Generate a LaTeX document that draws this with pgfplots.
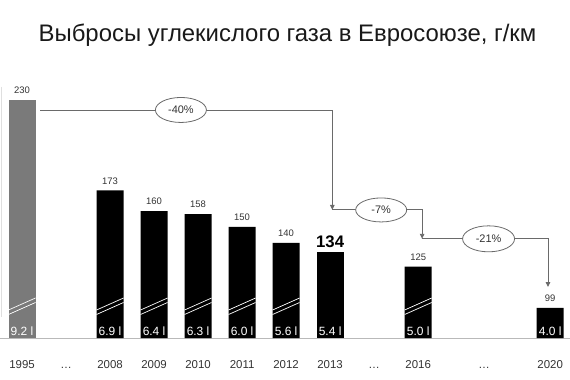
\documentclass[border=0pt]{standalone}
\usepackage{fontspec}
\setmainfont{Liberation Sans}
\usepackage{pgfplots}
\pgfplotsset{compat=1.18}
\usetikzlibrary{arrows.meta,shapes.geometric}
\definecolor{bargray}{HTML}{7A7A7A}
\definecolor{linegray}{HTML}{6A6A6A}
\definecolor{txt}{HTML}{333333}
\begin{document}
\begin{tikzpicture}
\useasboundingbox (0,-42bp) rectangle (570bp,338bp);
\begin{axis}[
  at={(0,0)}, anchor=south west, scale only axis,
  width=570bp, height=338bp,
  xmin=-0.5, xmax=12.45, ymin=80, ymax=293,
  axis x line*=bottom, axis y line=none,
  x axis line style={draw=gray!55, -},
  xtick={0,1,2,3,4,5,6,7,8,9,10.5,12},
  xticklabels={1995,{\dots},2008,2009,2010,2011,2012,2013,{\dots},2016,{\dots},2020},
  major tick length=0pt,
  xticklabel style={font=\fontsize{11.5}{13}\selectfont, text=txt, text height=8.5bp, text depth=0pt, yshift=-18bp},
  clip=false,
  bar width=27bp,
  /pgf/number format/assume math mode=true,
]
% bars
\addplot[ybar, bar shift=0pt, fill=bargray, draw=none,
  nodes near coords, point meta=y,
  nodes near coords style={font=\fontsize{9.5}{11}\selectfont, text=txt, anchor=south, inner sep=1bp, yshift=5bp}]
  coordinates {(0,230)};
\addplot[ybar, bar shift=0pt, fill=black, draw=none,
  nodes near coords, point meta=y,
  nodes near coords style={font=\fontsize{9.5}{11}\selectfont, text=txt, anchor=south, inner sep=1bp, yshift=5bp}]
  coordinates {(2,173) (3,160) (4,158) (5,150) (6,140) (9,125) (12,99)};
\addplot[ybar, bar shift=0pt, fill=black, draw=none,
  nodes near coords, point meta=y,
  nodes near coords style={font=\bfseries\fontsize{16.8}{18}\selectfont, text=black, anchor=south, inner sep=1bp, yshift=3bp}]
  coordinates {(7,134)};
% break marks
\pgfplotsinvokeforeach{0,2,3,4,5,6,9}{
  \draw[white, line width=0.7bp] ([shift={(-13.5bp,23.5bp)}]axis cs:#1,80) -- ([shift={(13.5bp,35.5bp)}]axis cs:#1,80);
  \draw[white, line width=0.7bp] ([shift={(-13.5bp,28bp)}]axis cs:#1,80) -- ([shift={(13.5bp,40bp)}]axis cs:#1,80);
}
% inner labels
\addplot[only marks, mark=none, point meta=explicit symbolic,
  nodes near coords,
  nodes near coords style={font=\fontsize{12}{13}\selectfont, text=white, anchor=south, inner sep=0pt, yshift=2bp}]
  coordinates {(0,80) [9.2 l] (2,80) [6.9 l] (3,80) [6.4 l] (4,80) [6.3 l] (5,80) [6.0 l] (6,80) [5.6 l] (7,80) [5.4 l] (9,80) [5.0 l] (12,80) [4.0 l]};
% arrows
\draw[linegray, line width=0.9bp, -{Triangle[length=5bp,width=4.5bp]}]
  (axis cs:0.41,223.7) -- (axis cs:7.05,223.7) -- (axis cs:7.05,160.7);
\draw[linegray, line width=0.9bp, -{Triangle[length=5bp,width=4.5bp]}]
  (axis cs:7.05,160.7) -- (axis cs:9.09,160.7) -- (axis cs:9.09,142.5);
\draw[linegray, line width=0.9bp, -{Triangle[length=5bp,width=4.5bp]}]
  (axis cs:9.09,142.5) -- (axis cs:11.95,142.5) -- (axis cs:11.95,112.1);
\node[ellipse, draw=linegray, fill=white, line width=0.8bp, minimum width=51bp, minimum height=25bp, inner sep=0pt, font=\fontsize{11}{12}\selectfont, text=txt] at (axis cs:3.61,223.7) {-40\%};
\node[ellipse, draw=linegray, fill=white, line width=0.8bp, minimum width=51bp, minimum height=24bp, inner sep=0pt, font=\fontsize{11}{12}\selectfont, text=txt] at (axis cs:8.16,160.7) {-7\%};
\node[ellipse, draw=linegray, fill=white, line width=0.8bp, minimum width=52bp, minimum height=26bp, inner sep=0pt, font=\fontsize{11}{12}\selectfont, text=txt] at (axis cs:10.6,142.5) {-21\%};
\end{axis}
\draw[gray!25] (1bp,251bp) -- (1bp,21bp);
\node[font=\fontsize{24}{28}\selectfont, text=black!90] at (287.5bp,303bp) {Выбросы углекислого газа в Евросоюзе, г/км};
\end{tikzpicture}
\end{document}
